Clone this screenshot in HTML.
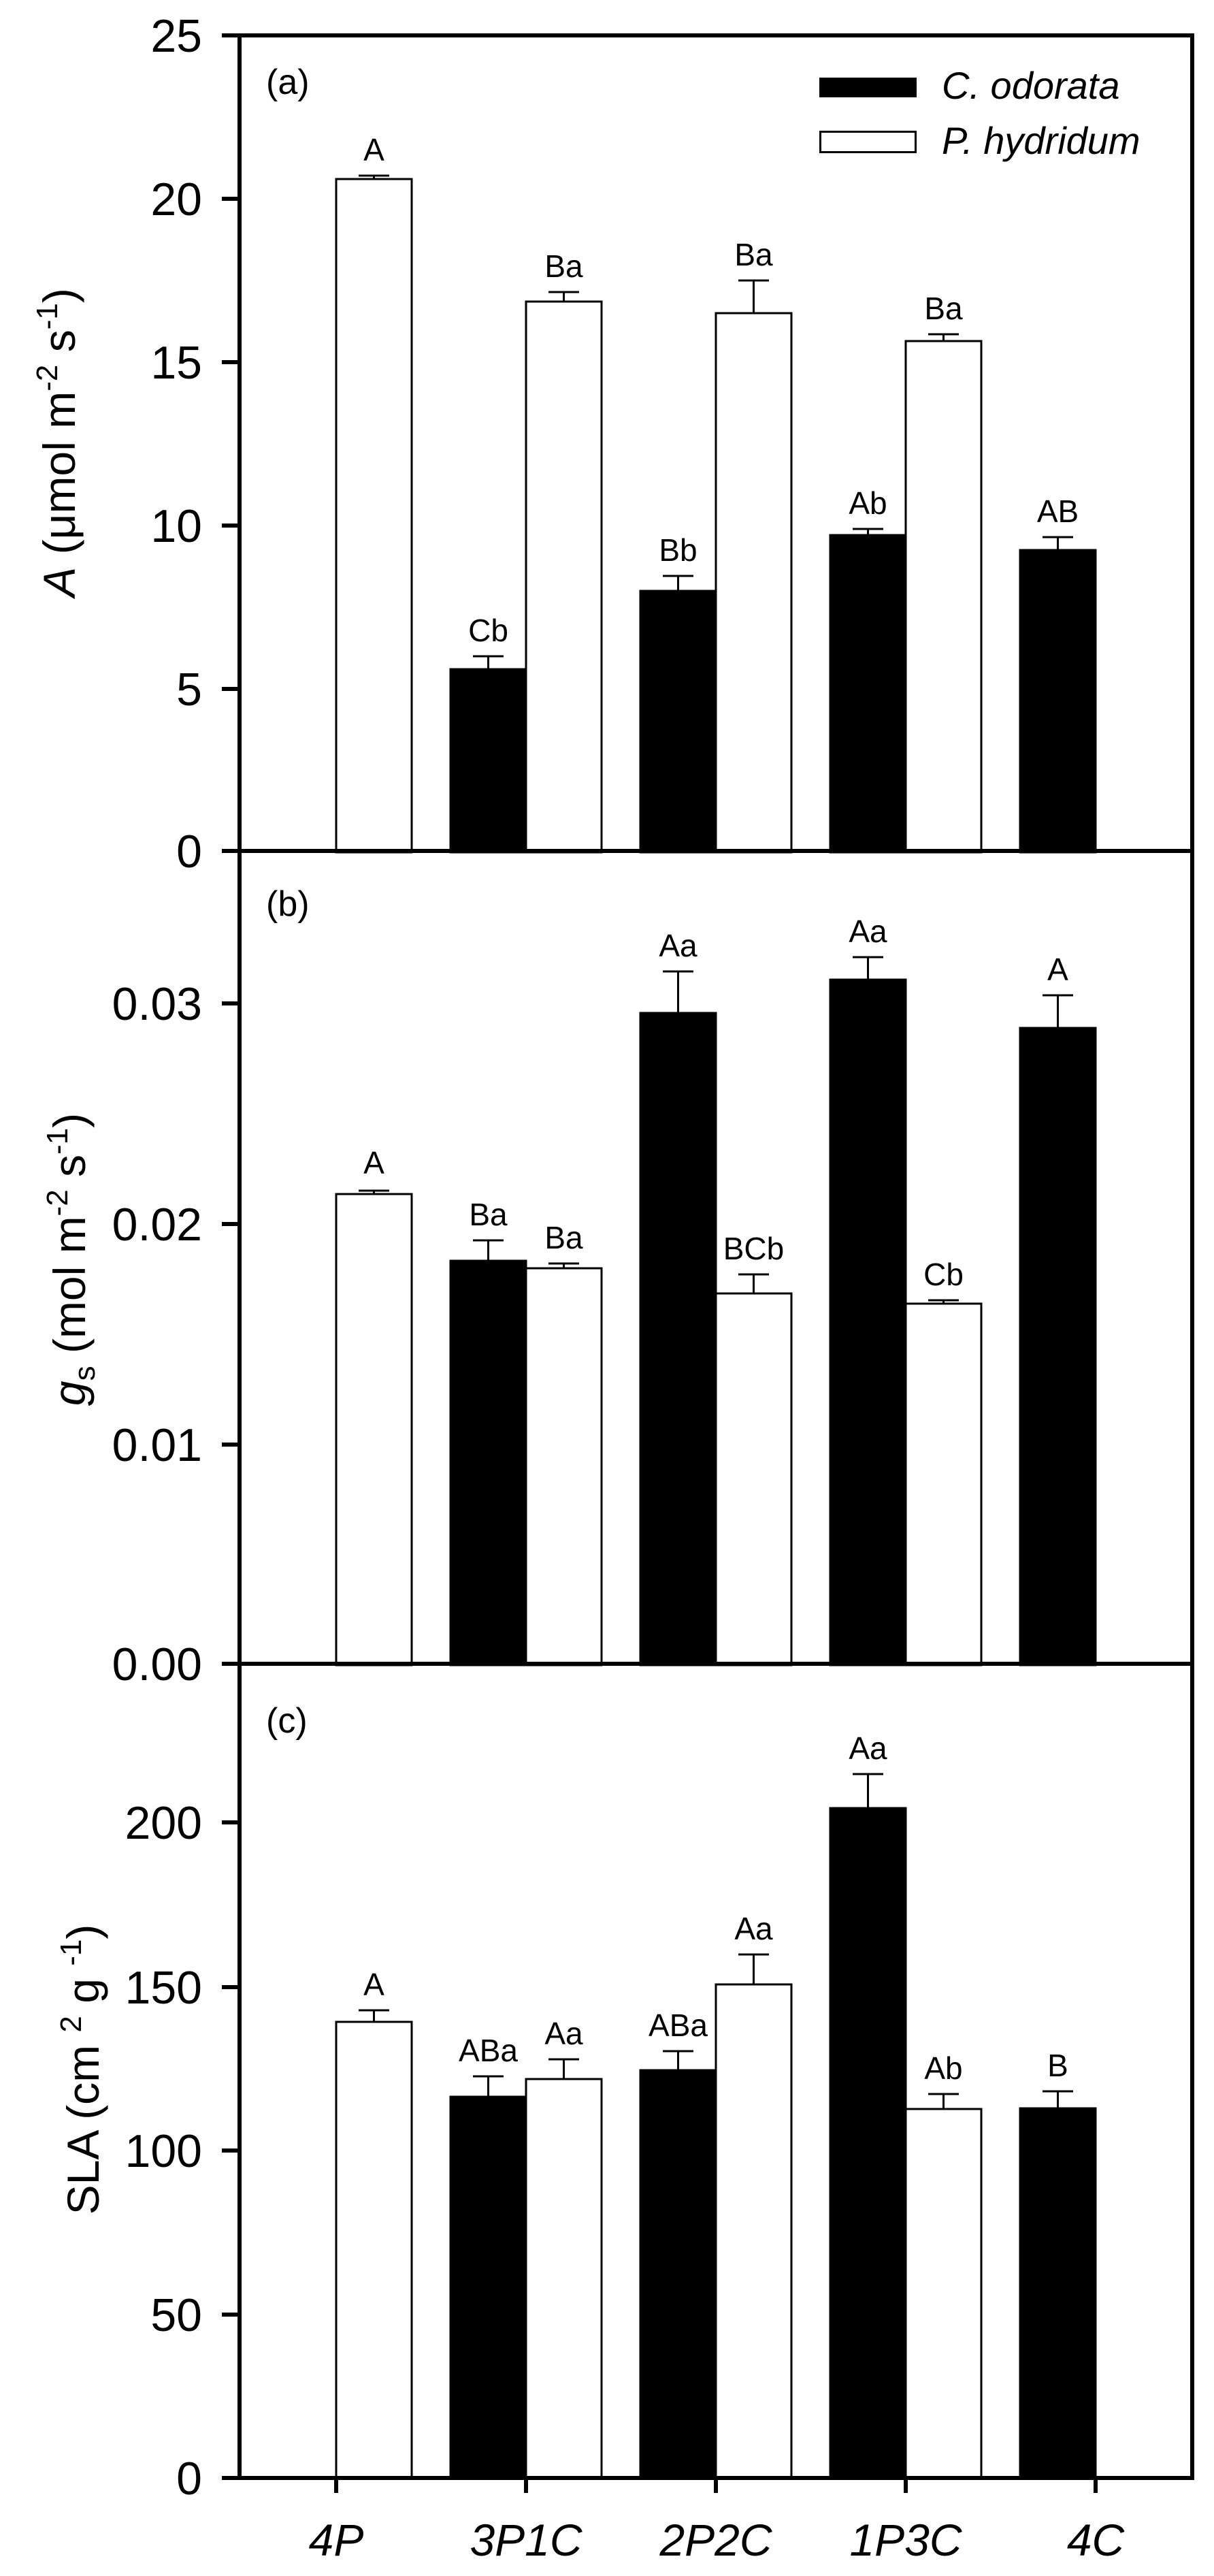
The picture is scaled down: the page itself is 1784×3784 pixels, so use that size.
<!DOCTYPE html>
<html><head><meta charset="utf-8"><style>
html,body{margin:0;padding:0;background:#fff;}
svg{display:block;}
text{font-family:"Liberation Sans",Arial,sans-serif;fill:#000;}
.tk{font-size:68px;text-anchor:end;}
.lb{font-size:46px;text-anchor:middle;}
.pl{font-size:52px;}
.xl{font-size:66px;font-style:italic;text-anchor:middle;}
.yt{font-size:66px;text-anchor:middle;}
</style></head><body>
<svg width="1784" height="3784" viewBox="0 0 1784 3784" xmlns="http://www.w3.org/2000/svg">
<rect width="1784" height="3784" fill="#fff"/>

<!-- ========== PANEL A ========== -->
<g stroke="#000" stroke-width="3">
<rect x="494" y="263" width="111" height="989" fill="#fff"/>
<rect x="662" y="983" width="111" height="269" fill="#000"/>
<rect x="773" y="443" width="111" height="809" fill="#fff"/>
<rect x="941" y="868" width="111" height="384" fill="#000"/>
<rect x="1052" y="460" width="111" height="792" fill="#fff"/>
<rect x="1220" y="786" width="111" height="466" fill="#000"/>
<rect x="1331" y="501" width="111" height="751" fill="#fff"/>
<rect x="1499" y="808" width="111" height="444" fill="#000"/>
<!-- error bars -->
<path d="M549.5 263V258M527 258H572
M717.5 983V964M695 964H740
M828.5 443V429M806 429H851
M996.5 868V846M974 846H1019
M1107.5 460V412M1085 412H1130
M1275.5 786V777M1253 777H1298
M1386.5 501V491M1364 491H1409
M1554.5 808V789M1532 789H1577" fill="none"/>
</g>
<g class="lb">
<text x="549.5" y="236" class="lb">A</text>
<text x="717.5" y="942" class="lb">Cb</text>
<text x="828.5" y="407" class="lb">Ba</text>
<text x="996.5" y="824" class="lb">Bb</text>
<text x="1107.5" y="390" class="lb">Ba</text>
<text x="1275.5" y="755" class="lb">Ab</text>
<text x="1386.5" y="469" class="lb">Ba</text>
<text x="1554.5" y="767" class="lb">AB</text>
</g>
<text x="391" y="138" class="pl">(a)</text>
<!-- legend -->
<rect x="1204" y="114" width="143" height="29" fill="#000"/>
<rect x="1205.5" y="193.5" width="140" height="30" fill="#fff" stroke="#000" stroke-width="3"/>
<text x="1384" y="145" font-size="56" font-style="italic">C. odorata</text>
<text x="1384" y="226" font-size="56" font-style="italic">P. hydridum</text>

<!-- ========== PANEL B ========== -->
<g stroke="#000" stroke-width="3">
<rect x="494" y="1754" width="111" height="692" fill="#fff"/>
<rect x="662" y="1852" width="111" height="594" fill="#000"/>
<rect x="773" y="1863" width="111" height="583" fill="#fff"/>
<rect x="941" y="1488" width="111" height="958" fill="#000"/>
<rect x="1052" y="1900" width="111" height="546" fill="#fff"/>
<rect x="1220" y="1439" width="111" height="1007" fill="#000"/>
<rect x="1331" y="1915" width="111" height="531" fill="#fff"/>
<rect x="1499" y="1510" width="111" height="936" fill="#000"/>
<path d="M549.5 1754V1749M527 1749H572
M717.5 1852V1822M695 1822H740
M828.5 1863V1856M806 1856H851
M996.5 1488V1427M974 1427H1019
M1107.5 1900V1872M1085 1872H1130
M1275.5 1439V1406M1253 1406H1298
M1386.5 1915V1910M1364 1910H1409
M1554.5 1510V1462M1532 1462H1577" fill="none"/>
</g>
<text x="549.5" y="1724" class="lb">A</text>
<text x="717.5" y="1800" class="lb">Ba</text>
<text x="828.5" y="1834" class="lb">Ba</text>
<text x="996.5" y="1405" class="lb">Aa</text>
<text x="1107.5" y="1850" class="lb">BCb</text>
<text x="1275.5" y="1384" class="lb">Aa</text>
<text x="1386.5" y="1888" class="lb">Cb</text>
<text x="1554.5" y="1440" class="lb">A</text>
<text x="391" y="1345" class="pl">(b)</text>

<!-- ========== PANEL C ========== -->
<g stroke="#000" stroke-width="3">
<rect x="494" y="2970" width="111" height="670" fill="#fff"/>
<rect x="662" y="3080" width="111" height="560" fill="#000"/>
<rect x="773" y="3054" width="111" height="586" fill="#fff"/>
<rect x="941" y="3041" width="111" height="599" fill="#000"/>
<rect x="1052" y="2915" width="111" height="725" fill="#fff"/>
<rect x="1220" y="2656" width="111" height="984" fill="#000"/>
<rect x="1331" y="3098" width="111" height="542" fill="#fff"/>
<rect x="1499" y="3097" width="111" height="543" fill="#000"/>
<path d="M549.5 2970V2953M527 2953H572
M717.5 3080V3050M695 3050H740
M828.5 3054V3025M806 3025H851
M996.5 3041V3013M974 3013H1019
M1107.5 2915V2871M1085 2871H1130
M1275.5 2656V2606M1253 2606H1298
M1386.5 3098V3076M1364 3076H1409
M1554.5 3097V3072M1532 3072H1577" fill="none"/>
</g>
<text x="549.5" y="2931" class="lb">A</text>
<text x="717.5" y="3028" class="lb">ABa</text>
<text x="828.5" y="3003" class="lb">Aa</text>
<text x="996.5" y="2991" class="lb">ABa</text>
<text x="1107.5" y="2849" class="lb">Aa</text>
<text x="1275.5" y="2584" class="lb">Aa</text>
<text x="1386.5" y="3054" class="lb">Ab</text>
<text x="1554.5" y="3050" class="lb">B</text>
<text x="391" y="2545" class="pl">(c)</text>

<!-- ========== AXES ========== -->
<g stroke="#000" stroke-width="6" fill="none">
<rect x="352" y="52" width="1400" height="3588"/>
<path d="M352 1250H1752M352 2444H1752"/>
<!-- y ticks -->
<path d="M326 52H352M326 292H352M326 532H352M326 772H352M326 1012H352M326 1250H352
M326 1474H352M326 1798H352M326 2122H352M326 2444H352
M326 2677H352M326 2919H352M326 3159H352M326 3400H352M326 3640H352"/>
<!-- x ticks -->
<path d="M494 3640V3662M773 3640V3662M1052 3640V3662M1331 3640V3662M1610 3640V3662"/>
</g>

<!-- tick labels -->
<text x="297" y="76" class="tk">25</text>
<text x="297" y="316" class="tk">20</text>
<text x="297" y="556" class="tk">15</text>
<text x="297" y="796" class="tk">10</text>
<text x="297" y="1036" class="tk">5</text>
<text x="297" y="1274" class="tk">0</text>
<text x="297" y="1498" class="tk">0.03</text>
<text x="297" y="1822" class="tk">0.02</text>
<text x="297" y="2146" class="tk">0.01</text>
<text x="297" y="2468" class="tk">0.00</text>
<text x="297" y="2701" class="tk">200</text>
<text x="297" y="2943" class="tk">150</text>
<text x="297" y="3183" class="tk">100</text>
<text x="297" y="3424" class="tk">50</text>
<text x="297" y="3664" class="tk">0</text>

<!-- x labels -->
<text x="494" y="3754" class="xl">4P</text>
<text x="773" y="3754" class="xl">3P1C</text>
<text x="1052" y="3754" class="xl">2P2C</text>
<text x="1331" y="3754" class="xl">1P3C</text>
<text x="1610" y="3754" class="xl">4C</text>

<!-- y titles -->
<text class="yt" transform="translate(110,650) rotate(-90)"><tspan font-style="italic">A</tspan> (μmol m<tspan font-size="44" dy="-26">-2</tspan><tspan dy="26"> s</tspan><tspan font-size="44" dy="-26">-1</tspan><tspan dy="26">)</tspan></text>
<text class="yt" transform="translate(125,1850) rotate(-90)"><tspan font-style="italic">g</tspan><tspan font-size="44" dy="14">s</tspan><tspan dy="-14"> (mol m</tspan><tspan font-size="44" dy="-26">-2</tspan><tspan dy="26"> s</tspan><tspan font-size="44" dy="-26">-1</tspan><tspan dy="26">)</tspan></text>
<text class="yt" transform="translate(145,3040) rotate(-90)">SLA (cm <tspan font-size="44" dy="-26">2</tspan><tspan dy="26"> g </tspan><tspan font-size="44" dy="-26">-1</tspan><tspan dy="26">)</tspan></text>
</svg>
</body></html>
